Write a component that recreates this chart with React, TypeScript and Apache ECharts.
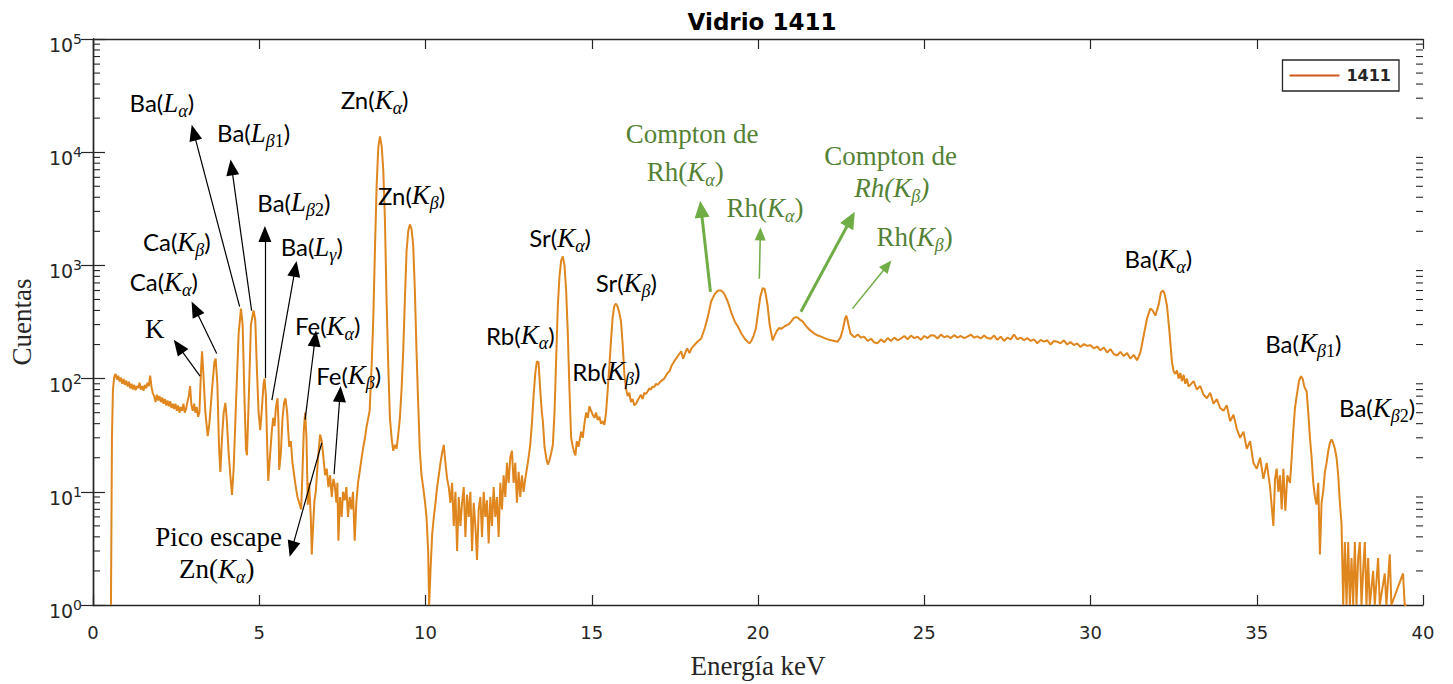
import React, { useEffect, useRef } from 'react';
import * as echarts from 'echarts';

// Spectrum points: [energy keV, counts]
const spectrum: [number, number][] = [
  [0.54,1],[0.57,30],[0.6,80],[0.64,104],[0.68,110],[0.72,98],[0.76,106],[0.8,94],[0.84,102],[0.88,90],[0.92,99],[0.96,88],[1.0,96],[1.04,85],[1.08,94],[1.12,82],[1.16,90],[1.2,80],[1.24,88],[1.28,79],[1.32,86],[1.36,82],[1.4,92],[1.44,80],[1.48,86],[1.52,78],[1.56,88],[1.6,82],[1.64,92],[1.68,86],[1.72,106],[1.76,84],[1.8,74],[1.84,70],[1.88,62],[1.92,72],[1.96,64],[2.0,70],[2.04,62],[2.08,68],[2.12,60],[2.16,66],[2.2,58],[2.24,64],[2.28,57],[2.32,63],[2.36,55],[2.4,60],[2.44,54],[2.48,60],[2.52,52],[2.56,58],[2.6,50],[2.64,56],[2.68,52],[2.72,60],[2.76,50],[2.8,54],[2.84,62],[2.88,70],[2.92,86],[2.96,58],[3.0,52],[3.04,60],[3.08,50],[3.12,56],[3.16,46],[3.2,50],
  [3.25,120],[3.28,174],[3.32,110],[3.38,50],[3.45,31],[3.5,40],[3.58,80],[3.65,140],[3.69,150],[3.74,90],[3.79,25],[3.83,15],[3.88,30],[3.93,50],[3.98,61],[4.02,45],[4.08,22],[4.13,14],[4.18,9.4],[4.23,16],[4.3,60],[4.38,250],[4.45,415],[4.5,300],[4.56,60],[4.6,24],[4.63,21],[4.68,60],[4.75,300],[4.83,400],[4.88,330],[4.93,120],[4.98,50],[5.03,35],[5.08,55],[5.13,90],[5.16,100],[5.2,70],[5.24,25],[5.27,12.5],[5.32,20],[5.38,35],[5.42,45],[5.46,38],[5.5,55],[5.55,67],[5.58,40],[5.6,15.6],[5.65,22],[5.7,45],[5.75,62],[5.79,67],[5.84,50],[5.9,25],[5.95,28],[6.0,18],[6.05,14],[6.09,11.5],[6.15,9],[6.2,8],[6.26,7],[6.3,15],[6.34,35],[6.38,50],[6.42,30],[6.46,7.7],[6.5,12],[6.55,6],[6.58,2.8],[6.62,5],[6.66,8.4],[6.7,10],[6.74,15],[6.78,22],[6.83,32],[6.88,28],[6.93,20],[6.98,14],[7.03,16],[7.08,11],[7.13,14],[7.18,9],[7.23,13],[7.27,11.6],[7.32,8],[7.35,12],[7.38,3.7],[7.43,9],[7.48,6],[7.52,10],[7.57,8.4],[7.62,11],[7.67,6],[7.72,9],[7.77,7],[7.82,10],[7.87,3.7],[7.92,8],[7.97,12],[8.02,15],[8.08,20],[8.13,25],[8.18,30],[8.23,38],[8.28,45],[8.32,52],
  [8.38,130],[8.43,340],[8.48,1400],[8.53,5000],[8.58,11000],[8.63,13800],[8.68,11500],[8.73,7000],[8.78,2500],[8.83,480],[8.88,130],[8.93,45],[8.98,30],[9.03,23],[9.08,26],[9.13,24],[9.18,32],[9.23,45],[9.28,80],[9.33,174],[9.38,500],[9.43,1320],[9.48,2000],[9.53,2300],[9.58,2100],[9.63,1500],[9.68,600],[9.73,174],[9.78,60],[9.83,23],[9.88,14],[9.93,11],[9.98,8.4],[10.03,6],[10.08,3],[10.11,1],[10.15,2],[10.2,4.2],[10.25,6],[10.3,8],[10.35,11],[10.4,14],[10.45,18],[10.5,22],[10.55,26],[10.6,18],[10.65,13],[10.7,11],
  [10.75,8],[10.8,12],[10.85,5],[10.9,10],[10.95,3],[11.0,9],[11.05,5],[11.1,8],[11.15,11],[11.2,4],[11.25,9.4],[11.3,6],[11.35,10],[11.4,3],[11.45,8],[11.5,5],[11.55,2.5],[11.6,7],[11.65,9],[11.7,4],[11.75,10],[11.8,6],[11.85,8.4],[11.9,3.5],[11.95,9],[12.0,5],[12.05,11],[12.1,6],[12.15,9],[12.2,4],[12.25,12],[12.3,7],[12.35,14],[12.4,9],[12.45,18],[12.5,12],[12.55,20],[12.6,23],[12.65,12],[12.7,18],[12.75,8],[12.8,15],[12.85,9],[12.9,14],[12.95,10],[13.0,13],[13.05,16],[13.1,20],[13.15,26],[13.2,40],[13.25,70],[13.3,110],[13.35,142],[13.4,140],[13.45,80],[13.5,50],[13.53,42],[13.58,25],[13.63,20],[13.68,17.4],[13.73,19],[13.78,22],[13.83,26],[13.88,50],[13.93,150],[13.98,440],[14.03,800],[14.08,1100],[14.13,1200],[14.18,1000],[14.23,600],[14.28,250],[14.33,80],[14.38,30],[14.43,25],[14.48,22],[14.51,21],[14.55,28],[14.6,25],[14.65,30],[14.68,34],[14.73,30],[14.78,40],[14.83,50],[14.88,45],[14.93,57],[14.98,52],[15.03,48],[15.08,45],[15.13,50],[15.18,43],[15.23,46],[15.28,40],[15.33,42],[15.38,39],[15.43,50],[15.48,80],[15.53,130],[15.58,220],[15.63,350],[15.68,440],[15.73,460],[15.78,430],[15.83,380],[15.88,320],[15.93,200],[15.98,110],[16.03,82],
  [16.08,70],[16.13,75],[16.18,62],[16.23,66],[16.28,58],[16.33,60],[16.38,64],[16.43,68],[16.48,72],[16.53,66],[16.58,75],[16.63,73],[16.68,77],[16.73,82],[16.78,80],[16.83,85],[16.88,84],[16.93,90],[16.98,88],[17.08,95],[17.18,100],[17.28,112],[17.34,116],[17.4,130],[17.5,145],[17.6,160],[17.69,174],[17.75,150],[17.8,165],[17.87,185],[17.94,168],[18.0,185],[18.1,200],[18.2,215],[18.29,225],[18.4,280],[18.5,360],[18.59,480],[18.7,560],[18.8,600],[18.89,600],[18.95,580],[19.0,550],[19.09,480],[19.2,380],[19.3,320],[19.39,290],[19.5,250],[19.6,225],[19.7,210],[19.74,205],[19.8,215],[19.87,240],[19.94,280],[20.0,380],[20.07,530],[20.14,630],[20.2,620],[20.25,520],[20.29,440],[20.35,300],[20.44,218],[20.5,240],[20.57,265],[20.64,280],[20.7,275],[20.8,290],[20.9,300],[20.94,305],[21.0,320],[21.07,340],[21.14,350],[21.2,345],[21.27,330],[21.34,320],[21.45,290],[21.55,270],[21.62,260],[21.69,250],[21.8,240],[21.9,235],[22.0,228],[22.1,222],[22.2,218],[22.3,215],[22.39,212],[22.48,230],[22.55,270],[22.62,340],[22.66,360],[22.72,300],[22.78,250],[22.84,240],[22.9,232],
  [23.0,245],[23.1,230],[23.19,235],[23.3,215],[23.4,225],[23.5,208],[23.59,205],[23.7,222],[23.8,210],[23.9,228],[24.0,215],[24.1,230],[24.2,218],[24.29,225],[24.4,238],[24.5,222],[24.6,240],[24.7,228],[24.8,235],[24.9,220],[25.0,238],[25.1,228],[25.2,242],[25.3,240],[25.4,226],[25.5,245],[25.6,232],[25.7,238],[25.8,228],[25.9,242],[26.0,230],[26.1,238],[26.2,228],[26.3,235],[26.4,245],[26.5,230],[26.6,236],[26.7,226],[26.8,240],[26.9,228],[27.0,225],[27.1,240],[27.2,220],[27.3,235],[27.4,215],[27.5,230],[27.6,222],[27.7,245],[27.8,222],[27.9,230],[28.0,218],[28.1,228],[28.2,215],[28.3,222],[28.4,205],[28.5,220],[28.6,212],[28.7,218],[28.8,200],[28.9,215],[29.0,212],[29.1,205],[29.2,218],[29.3,200],[29.4,210],[29.5,198],[29.6,205],[29.7,190],[29.8,202],[29.9,195],[30.0,197],[30.1,185],[30.2,192],[30.3,178],[30.4,188],[30.5,170],[30.6,182],[30.7,165],[30.8,160],[30.9,172],[31.0,158],[31.1,168],[31.2,150],[31.3,162],[31.4,145],
  [31.5,170],[31.6,240],[31.7,340],[31.8,415],[31.87,400],[31.95,360],[32.05,450],[32.12,580],[32.18,600],[32.23,560],[32.3,440],[32.38,250],[32.45,140],[32.5,116],[32.55,110],[32.6,118],[32.65,100],[32.7,112],[32.75,95],[32.8,108],[32.85,90],[32.9,100],[32.95,85],[33.0,88],[33.1,95],[33.2,80],[33.3,86],[33.4,72],[33.5,67],[33.6,75],[33.7,60],[33.8,66],[33.9,55],[34.0,52],[34.1,58],[34.2,42],[34.3,48],[34.4,36],[34.5,30],[34.6,34],[34.7,24],[34.8,28],[34.9,18],[35.0,16],[35.1,20],[35.2,13],[35.3,18],[35.4,11],[35.5,5],[35.55,13],[35.6,16],[35.65,10],[35.7,14],[35.75,7],[35.8,16],[35.86,6.8],[35.92,14],[36.0,12],[36.05,20],[36.1,35],[36.15,55],[36.2,70],[36.27,95],[36.33,105],[36.38,100],[36.43,85],[36.5,77],[36.55,50],[36.6,30],[36.65,20],[36.7,12],[36.75,9],[36.8,7.7],[36.85,12],[36.9,2.8],[36.95,8],[37.0,10.2],[37.05,15],[37.1,18],[37.15,23],[37.2,27],[37.25,29],[37.3,27],[37.35,24],[37.4,20],[37.45,14],[37.5,8],[37.55,5.2],[37.6,1],[37.65,3.6],[37.7,1],[37.75,3.6],[37.8,1],[37.85,2.6],[37.9,1],[37.95,3.6],[38.0,1],[38.05,2.6],[38.1,3.6],[38.15,1],[38.2,2],[38.25,3.6],[38.3,1],[38.35,2.6],[38.4,1],[38.5,2],[38.55,1],[38.65,2.6],[38.7,1],[38.85,1.9],[38.9,1],[39.0,2.8],[39.05,1],[39.4,1.9],[39.45,1],[39.5,1]
];

const seriesName = '1411';
const titleText = 'Vidrio 1411';
const xAxisName = 'Energía keV';
const yAxisName = 'Cuentas';
const minorMultipliers = [2, 3, 4, 5, 6, 7, 8, 9];
const decades = [1, 10, 100, 1000, 10000];

// Annotation labels (energy keV, counts)
const annotationLabels = [
  { text: '{n|Ba(}{i|L}{s|α}{n|)}', x: 2.07, y: 27400 },
  { text: '{n|Ba(}{i|L}{s|β}{d|1}{n|)}', x: 4.83, y: 14900 },
  { text: '{n|Ba(}{i|L}{s|β}{d|2}{n|)}', x: 6.04, y: 3620 },
  { text: '{n|Ca(}{i|K}{s|β}{n|)}', x: 2.52, y: 1610 },
  { text: '{n|Ba(}{i|L}{s|γ}{n|)}', x: 6.58, y: 1456 },
  { text: '{n|Ca(}{i|K}{s|α}{n|)}', x: 2.13, y: 718 },
  { text: '{n|Fe(}{i|K}{s|α}{n|)}', x: 7.06, y: 294 },
  { text: '{r|K}', x: 1.86, y: 277 },
  { text: '{n|Fe(}{i|K}{s|β}{n|)}', x: 7.69, y: 107 },
  { text: '{r|Pico escape}', x: 3.78, y: 3.96 },
  { text: '{r|Zn(}{i|K}{s|α}{r|)}', x: 3.72, y: 2.07 },
  { text: '{n|Zn(}{i|K}{s|α}{n|)}', x: 8.47, y: 29100 },
  { text: '{n|Zn(}{i|K}{s|β}{n|)}', x: 9.58, y: 4170 },
  { text: '{n|Sr(}{i|K}{s|α}{n|)}', x: 14.05, y: 1750 },
  { text: '{n|Sr(}{i|K}{s|β}{n|)}', x: 16.04, y: 703 },
  { text: '{n|Rb(}{i|K}{s|α}{n|)}', x: 12.85, y: 241 },
  { text: '{n|Rb(}{i|K}{s|β}{n|)}', x: 15.44, y: 116 },
  { text: '{g|Compton de}', x: 18.02, y: 14600 },
  { text: '{g|Rh(}{gi|K}{gs|α}{g|)}', x: 17.81, y: 6640 },
  { text: '{g|Rh(}{gi|K}{gs|α}{g|)}', x: 20.21, y: 3210 },
  { text: '{g|Compton de}', x: 23.99, y: 9190 },
  { text: '{gi|Rh(K}{gs|β}{gi|)}', x: 24.02, y: 4810 },
  { text: '{g|Rh(}{gi|K}{gs|β}{g|)}', x: 24.71, y: 1785 },
  { text: '{n|Ba(}{i|K}{s|α}{n|)}', x: 32.04, y: 1143 },
  { text: '{n|Ba(}{i|K}{s|β}{d|1}{n|)}', x: 36.4, y: 205 },
  { text: '{n|Ba(}{i|K}{s|β}{d|2}{n|)}', x: 38.62, y: 55 },
];

// Arrows: from (tail) -> to (head), kind: k = black, gt = green thick, gn = green thin
const annotationArrows: { from: [number, number]; to: [number, number]; kind: string }[] = [
  { from: [4.41, 433], to: [3.03, 14900], kind: 'k' },
  { from: [4.77, 399], to: [4.17, 7350], kind: 'k' },
  { from: [5.17, 101], to: [5.17, 1896], kind: 'k' },
  { from: [5.38, 64.6], to: [6.08, 933], kind: 'k' },
  { from: [6.38, 43.4], to: [6.68, 226], kind: 'k' },
  { from: [7.25, 14.3], to: [7.43, 73], kind: 'k' },
  { from: [3.22, 105], to: [2.57, 193], kind: 'k' },
  { from: [3.72, 167], to: [3.07, 415], kind: 'k' },
  { from: [6.88, 27], to: [5.98, 3.12], kind: 'k' },
  { from: [18.57, 583], to: [18.29, 3140], kind: 'gt' },
  { from: [20.04, 762], to: [20.07, 1900], kind: 'gn' },
  { from: [21.29, 389], to: [22.79, 2560], kind: 'gt' },
  { from: [22.84, 415], to: [23.89, 998], kind: 'gn' },
];

const AXIS_COLOR = '#262626';
const LINE_COLOR = '#E0861E';
const LEGEND_COLOR = '#D0561A';
const GREEN_TEXT = '#548235';
const GREEN_ARROW = '#70AD47';

const richLabels = {
  n: { fontFamily: 'Lato', fontSize: 24, color: '#000', lineHeight: 34 },
  r: { fontFamily: 'Liberation Serif', fontSize: 27, color: '#000', lineHeight: 34 },
  i: { fontFamily: 'Liberation Serif', fontStyle: 'italic', fontSize: 27, color: '#000', lineHeight: 34 },
  s: { fontFamily: 'Liberation Serif', fontStyle: 'italic', fontSize: 18, color: '#000', lineHeight: 18, verticalAlign: 'bottom' },
  d: { fontFamily: 'Liberation Serif', fontSize: 18, color: '#000', lineHeight: 18, verticalAlign: 'bottom' },
  g: { fontFamily: 'Liberation Serif', fontSize: 27, color: GREEN_TEXT, lineHeight: 34 },
  gi: { fontFamily: 'Liberation Serif', fontStyle: 'italic', fontSize: 27, color: GREEN_TEXT, lineHeight: 34 },
  gs: { fontFamily: 'Liberation Serif', fontStyle: 'italic', fontSize: 18, color: GREEN_TEXT, lineHeight: 18, verticalAlign: 'bottom' },
};

function arrowStyle(kind: string) {
  if (kind === 'gt') return { color: GREEN_ARROW, width: 3, head: [15, 17] };
  if (kind === 'gn') return { color: GREEN_ARROW, width: 1.5, head: [11, 13] };
  return { color: '#000', width: 1.2, head: [13, 16] };
}

export default function App() {
  const ref = useRef<HTMLDivElement>(null);
  useEffect(() => {
    if (!ref.current) return;
    const chart = echarts.init(ref.current, null, { renderer: 'svg' });
    const minorTicks: number[][] = [];
    decades.forEach((d) => minorMultipliers.forEach((m) => minorTicks.push([0, d * m])));

    const option: any = {
      animation: false,
      backgroundColor: '#fff',
      title: {
        text: titleText,
        left: 757,
        top: 5,
        textAlign: 'center',
        textStyle: { fontFamily: 'DejaVu Sans', fontWeight: 'bold', fontSize: 23, color: '#000' },
      },
      legend: {
        right: 54,
        top: 60,
        itemWidth: 54,
        itemHeight: 2,
        padding: [6, 8, 6, 7],
        borderColor: AXIS_COLOR,
        borderWidth: 1.3,
        backgroundColor: '#fff',
        textStyle: { fontFamily: 'DejaVu Sans', fontWeight: 'bold', fontSize: 16, color: AXIS_COLOR, lineHeight: 19 },
        data: [{ name: seriesName, icon: 'path://M0,0H100V4H0Z', itemStyle: { color: LEGEND_COLOR } }],
      },
      grid: { left: 91, right: 30, top: 39, bottom: 76, containLabel: false },
      xAxis: [
        {
          type: 'value', min: 0, max: 40, interval: 5, position: 'bottom',
          name: xAxisName, nameLocation: 'middle', nameGap: 47,
          nameTextStyle: { fontFamily: 'Liberation Serif', fontSize: 27, color: AXIS_COLOR },
          axisLine: { show: true, lineStyle: { color: AXIS_COLOR, width: 1.4 } },
          axisTick: { show: true, inside: true, length: 10, lineStyle: { color: AXIS_COLOR, width: 1.2 } },
          axisLabel: { margin: 18, fontFamily: 'DejaVu Sans', fontSize: 18, color: AXIS_COLOR },
          splitLine: { show: false },
        },
        {
          type: 'value', min: 0, max: 40, interval: 5, position: 'top',
          axisLine: { show: true, lineStyle: { color: AXIS_COLOR, width: 1.4 } },
          axisTick: { show: true, inside: true, length: 10, lineStyle: { color: AXIS_COLOR, width: 1.2 } },
          axisLabel: { show: false },
          splitLine: { show: false },
        },
      ],
      yAxis: [
        {
          type: 'log', logBase: 10, min: 1, max: 100000, splitNumber: 5, position: 'left',
          name: yAxisName, nameLocation: 'middle', nameGap: 58, nameRotate: 90,
          nameTextStyle: { fontFamily: 'Liberation Serif', fontSize: 27, color: AXIS_COLOR },
          axisLine: { show: true, lineStyle: { color: AXIS_COLOR, width: 1.4 } },
          axisTick: { show: true, inside: true, length: 12, lineStyle: { color: AXIS_COLOR, width: 1.2 } },
          axisLabel: {
            margin: 11,
            padding: [12, 0, 0, 0],
            formatter: (v: number) => '{b|10}{sup|' + Math.round(Math.log10(v)) + '}',
            rich: {
              b: { fontFamily: 'DejaVu Sans', fontSize: 19, color: AXIS_COLOR, lineHeight: 26 },
              sup: { fontFamily: 'DejaVu Sans', fontSize: 14, color: AXIS_COLOR, lineHeight: 14, verticalAlign: 'top' },
            },
          },
          splitLine: { show: false },
        },
        {
          type: 'log', logBase: 10, min: 1, max: 100000, splitNumber: 5, position: 'right',
          axisLine: { show: true, lineStyle: { color: AXIS_COLOR, width: 1.4 } },
          axisTick: { show: true, inside: true, length: 12, lineStyle: { color: AXIS_COLOR, width: 1.2 } },
          axisLabel: { show: false },
          splitLine: { show: false },
        },
      ],
      series: [
        {
          name: seriesName,
          type: 'line',
          xAxisIndex: 0,
          yAxisIndex: 0,
          data: spectrum,
          symbol: 'none',
          showSymbol: false,
          lineStyle: { color: LINE_COLOR, width: 2 },
          itemStyle: { color: LINE_COLOR },
          z: 3,
          markLine: {
            silent: true,
            animation: false,
            label: { show: false },
            emphasis: { disabled: true },
            data: annotationArrows.map((a) => {
              const st = arrowStyle(a.kind);
              return [
                { coord: a.from, symbol: 'none', lineStyle: { color: st.color, width: st.width, type: 'solid' } },
                { coord: a.to, symbol: 'triangle', symbolSize: st.head, itemStyle: { color: st.color } },
              ];
            }),
          },
          markPoint: {
            silent: true,
            animation: false,
            symbol: 'circle',
            symbolSize: 0,
            itemStyle: { color: 'transparent' },
            data: annotationLabels.map((l) => ({
              coord: [l.x, l.y],
              label: { show: true, position: 'inside', formatter: l.text, rich: richLabels },
            })),
          },
        },
        {
          name: 'minor',
          type: 'custom',
          xAxisIndex: 0,
          yAxisIndex: 0,
          silent: true,
          data: minorTicks,
          renderItem: (params: any, api: any) => {
            const v = api.value(1);
            const pL = api.coord([0, v]);
            const pR = api.coord([40, v]);
            return {
              type: 'group',
              children: [
                { type: 'line', shape: { x1: pL[0], y1: pL[1], x2: pL[0] + 7, y2: pL[1] }, style: { stroke: AXIS_COLOR, lineWidth: 1.1 } },
                { type: 'line', shape: { x1: pR[0], y1: pR[1], x2: pR[0] - 7, y2: pR[1] }, style: { stroke: AXIS_COLOR, lineWidth: 1.1 } },
              ],
            };
          },
        },
      ],
    };
    chart.setOption(option);
    return () => chart.dispose();
  }, []);
  return <div ref={ref} style={{ position: 'fixed', left: 0, top: 0, width: 1453, height: 684, background: '#fff' }} />;
}
